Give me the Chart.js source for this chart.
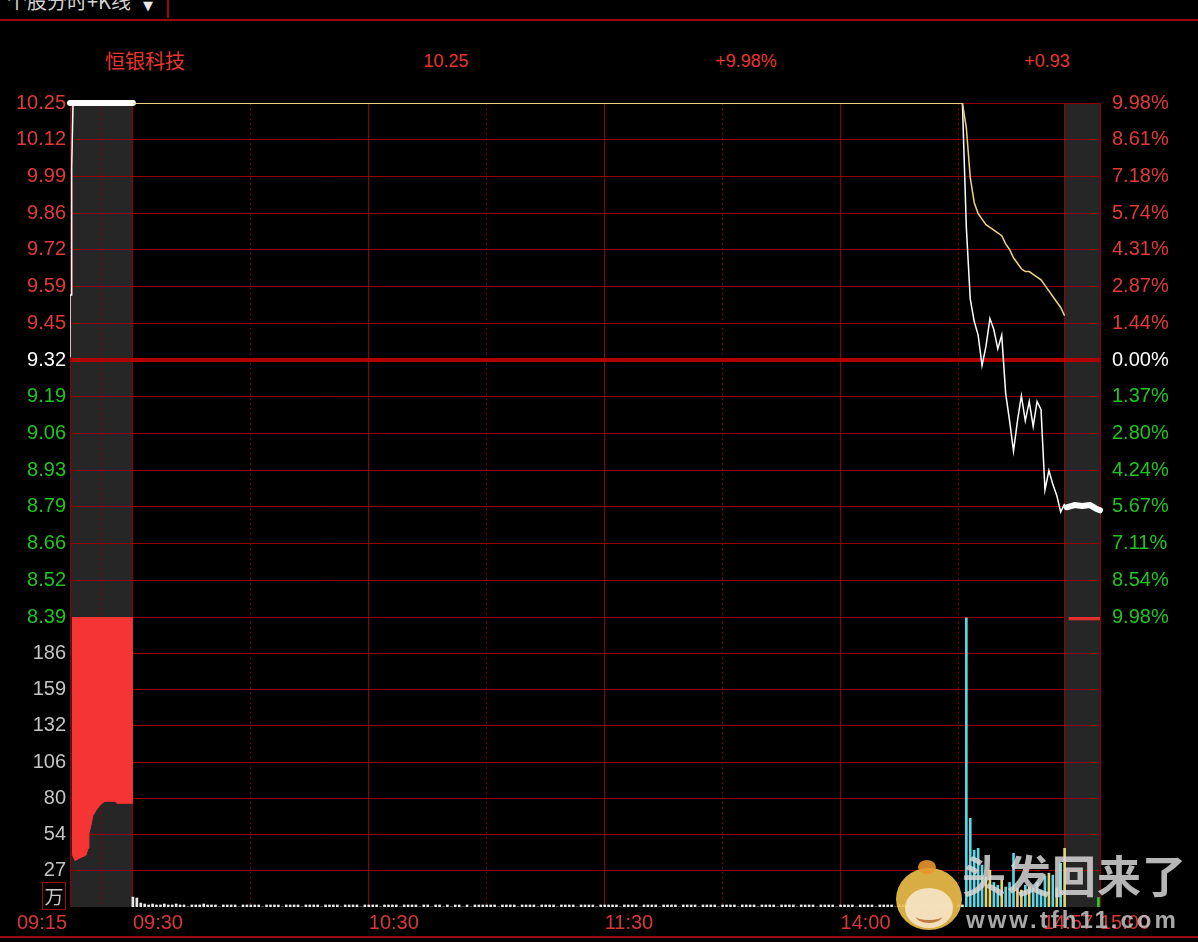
<!DOCTYPE html>
<html>
<head>
<meta charset="utf-8">
<script src="https://cdn.jsdelivr.net/npm/chart.js@4.4.1/dist/chart.umd.min.js"></script>
<style>
html, body { margin: 0; padding: 0; background: #000; overflow: hidden; }
#wrap { position: relative; width: 1198px; height: 942px; background: #000; font-family: "Liberation Sans", Arial, sans-serif; }
canvas { position: absolute; left: 0; }
#cPrice { top: 0; }
#cVol { top: 610px; }
.t { position: absolute; white-space: nowrap; line-height: 1; }
.ln { position: absolute; background: #9a0a0a; }
</style>
</head>
<body>
<div id="wrap">
  <div class="t" style="left:7px;top:-9px;font-size:20px;font-family:'Noto Sans CJK SC';color:#d2d2d2">个股分时+K线</div>
  <div class="t" style="left:143px;top:-1px;font-size:13px;font-family:'DejaVu Sans';color:#e8e8e8">▼</div>
  <div class="ln" style="left:167px;top:0;width:2px;height:18px"></div>
  <div class="ln" style="left:0;top:19px;width:1198px;height:2px"></div>
  <div class="ln" style="left:0;top:936px;width:1198px;height:2px"></div>

  <div class="t" style="left:105px;top:51px;font-size:20px;font-family:'Noto Sans CJK SC';color:#e8362f">恒银科技</div>
  <div class="t" style="left:396px;top:52px;width:100px;text-align:center;font-size:18px;color:#e8362f">10.25</div>
  <div class="t" style="left:696px;top:52px;width:100px;text-align:center;font-size:18px;color:#e8362f">+9.98%</div>
  <div class="t" style="left:997px;top:52px;width:100px;text-align:center;font-size:18px;color:#e8362f">+0.93</div>

  <canvas id="cPrice" width="1198" height="630"></canvas>
  <canvas id="cVol" width="1198" height="332"></canvas>

  <div class="t" style="left:42px;top:882px;width:22px;height:26px;border:1px solid #9a0a0a;text-align:center;line-height:26px;font-size:19px;font-family:'Noto Sans CJK SC';color:#c8c8c8">万</div>
  <div class="t" style="left:17px;top:912px;font-size:20px;color:#d8383a">09:15</div>
  <div class="t" style="left:1043px;top:912px;font-size:20px;color:#d8383a">14:57</div>

  <div style="position:absolute;left:896px;top:868px;width:66px;height:62px;border-radius:50%;background:#efc04a;opacity:.9"></div>
  <div style="position:absolute;left:905px;top:888px;width:48px;height:40px;border-radius:50%;background:#f6e6c8;opacity:.9"></div>
  <div style="position:absolute;left:916px;top:910px;width:26px;height:10px;border-bottom:3px solid #c07a3a;border-radius:0 0 50% 50%"></div>
  <div style="position:absolute;left:918px;top:860px;width:18px;height:14px;border-radius:50%;background:#e8962e;opacity:.9"></div>
  <div class="t" style="left:962px;top:852px;font-size:44px;font-weight:700;font-family:'Noto Sans CJK SC';color:rgba(214,214,214,.85);letter-spacing:1px">头发回来了</div>
  <div class="t" style="left:966px;top:908px;font-size:24px;font-weight:700;color:rgba(196,196,196,.85);letter-spacing:3px">www.tfh11.com</div>
</div>

<script>
// 昨收
const prevClose = 9.32;

// 刻度文字
const priceTickLabels = ['10.25','10.12','9.99','9.86','9.72','9.59','9.45','9.32','9.19','9.06','8.93','8.79','8.66','8.52','8.39'];
const pctTickLabels = ['9.98%','8.61%','7.18%','5.74%','4.31%','2.87%','1.44%','0.00%','1.37%','2.80%','4.24%','5.67%','7.11%','8.54%','9.98%'];
const volTickLabels = ['27','54','80','106','132','159','186'];
const xGridTimes = ['09:15','09:30','10:30','11:30','14:00','14:57','15:00'];
const xLabelTimes = ['09:30','10:30','11:30','14:00','15:00'];
const xDotTimes = ['09:20','10:00','11:00','13:30','14:30'];
const shadeRanges = [['09:15','09:30'], ['14:57','15:00']];

// 集合竞价 价格
const auctionTimes = ['09:15:00','09:15:00','09:15:16','09:15:16','09:15:29'];
const auctionPrices = [9.33, 9.555, 9.555, 10.015, 10.25];
const auctionHoldTimes = ['09:15:00','09:25:00'];
const auctionHoldPrices = [10.25, 10.25];

// 分时价格 / 均价
const priceTimes = ['09:30','14:31','14:32','14:33','14:34','14:35','14:36','14:37','14:38','14:39','14:40',
  '14:41','14:42','14:43','14:44','14:45','14:46','14:47','14:48','14:49','14:50',
  '14:51','14:52','14:53','14:54','14:55','14:56','14:57'];
const prices = [10.25, 10.25, 9.80, 9.54, 9.46, 9.41, 9.30, 9.37, 9.47, 9.43, 9.36,
  9.41, 9.20, 9.10, 8.99, 9.10, 9.19, 9.10, 9.17, 9.08, 9.17,
  9.14, 8.85, 8.92, 8.87, 8.83, 8.77, 8.80];
const avgPrices = [10.25, 10.25, 10.16, 9.98, 9.89, 9.85, 9.83, 9.81, 9.80, 9.79, 9.78,
  9.77, 9.74, 9.72, 9.69, 9.67, 9.65, 9.64, 9.64, 9.63, 9.62,
  9.61, 9.59, 9.57, 9.55, 9.53, 9.51, 9.48];

// 收盘集合竞价
const closeTimes = ['14:57:10','14:57:50','14:58:30','14:59:10','14:59:40','15:00:00'];
const closePrices = [8.787, 8.795, 8.792, 8.795, 8.782, 8.776];

// 竞价未匹配量 (万)
const unmatchedTimes = ['09:15:19','09:15:48','09:16:35','09:17:33','09:17:52','09:18:01','09:18:20',
  '09:18:39','09:19:18','09:20:05','09:20:34','09:22:09','09:22:28','09:25:00'];
const unmatchedVols = [39, 34, 36, 38, 43, 54, 60, 67, 72, 76, 77.5, 77.5, 76, 76];
const closeUnmatchedTimes = ['14:57:20','15:00:00'];
const closeUnmatchedVols = [210.5, 210.5];

// 成交量 (万) 09:30-11:30
const volAM = [
  7.3, 6.6, 2.9, 2.2, 1.5, 2.2, 1.5, 1.5, 2.2, 1.5,
  1.5, 2.2, 1.5, 1.5, 0, 1.5, 1.5, 1.5, 2.2, 1.5,
  1.5, 1.5, 0, 1.5, 1.5, 1.5, 1.5, 0, 1.5, 1.5,
  1.5, 1.5, 1.5, 0, 1.5, 1.5, 1.5, 1.5, 0, 1.5,
  1.5, 1.5, 1.5, 0, 1.5, 1.5, 1.5, 1.5, 0, 1.5,
  1.5, 1.5, 1.5, 0, 1.5, 1.5, 1.5, 1.5, 0, 1.5,
  1.5, 1.5, 1.5, 0, 1.5, 1.5, 1.5, 1.5, 0, 1.5,
  1.5, 1.5, 1.5, 0, 1.5, 1.5, 0, 1.5, 1.5, 0,
  1.5, 0, 1.5, 1.5, 0, 1.5, 0, 1.5, 1.5, 1.5,
  1.5, 1.5, 1.5, 0, 1.5, 1.5, 1.5, 1.5, 0, 1.5,
  1.5, 1.5, 1.5, 0, 1.5, 1.5, 1.5, 1.5, 0, 1.5,
  1.5, 1.5, 1.5, 0, 1.5, 1.5, 1.5, 1.5, 0, 1.5,
  1.5
];
// 成交量 (万) 13:01-14:57
const volPM = [
  1.5, 1.5, 1.5, 0, 1.5, 1.5, 1.5, 1.5, 0, 1.5,
  1.5, 1.5, 1.5, 0, 1.5, 1.5, 1.5, 1.5, 0, 1.5,
  1.5, 1.5, 1.5, 0, 1.5, 1.5, 1.5, 1.5, 0, 1.5,
  1.5, 1.5, 1.5, 0, 1.5, 1.5, 1.5, 1.5, 0, 1.5,
  1.5, 1.5, 1.5, 0, 1.5, 1.5, 1.5, 1.5, 0, 1.5,
  1.5, 1.5, 1.5, 0, 1.5, 1.5, 1.5, 1.5, 0, 1.5,
  1.5, 1.5, 1.5, 0, 1.5, 1.5, 1.5, 1.5, 0, 1.5,
  1.5, 1.5, 1.5, 0, 1.5, 1.5, 1.5, 1.5, 0, 1.5,
  1.5, 1.5, 1.5, 0, 1.5, 1.5, 1.5, 1.5, 0, 1.5,
  1.5,
  212, 65, 41.6, 43, 30.7, 22, 27, 18, 16, 20,
  14.6, 18, 39.4, 14, 12.4, 16, 14.6, 14, 18, 12.4,
  22.6, 24.8, 23.4, 14, 32, 43
];
// 14:32-14:57 涨跌 (u 涨 / d 跌)
const volPMTailDir = ['d','d','d','d','d','u','u','d','d','u','d','d','d','u','u','d','u','d','d','d','d','u','d','u','d','u'];
const closeVolTimes = ['15:00'];
const closeVols = [7];

// 时间 -> 横轴位置 (竞价区放大)
function toSlot(t) {
  const p = t.split(':').map(Number);
  const m = p[0] * 60 + p[1] + (p[2] || 0) / 60;
  if (m <= 565) return (m - 555) * 1.6;
  if (m < 570) return 16;
  if (m <= 690) return 16 + (m - 570);
  if (m <= 897) return 136 + (m - 780);
  return 253 + (m - 897) * 3;
}
function hm(base, i) {
  const m = base + i;
  return String(Math.floor(m / 60)).padStart(2, '0') + ':' + String(m % 60).padStart(2, '0');
}
const pts = (times, vals) => times.map((t, i) => ({ x: toSlot(t), y: vals[i] }));

const RED = '#e23a36', GREEN = '#20c420', GRID = '#940000', GRID_DOT = '#7a0000';
const FONT = { family: 'Liberation Sans', size: 20 };

const xTicks = xGridTimes.map(t => ({ value: toSlot(t), lab: xLabelTimes.includes(t) ? t : '', dot: false }))
  .concat(xDotTimes.map(t => ({ value: toSlot(t), lab: '', dot: true })));

function noPad(s) { s.paddingTop = 0; s.paddingBottom = 0; s.paddingLeft = 0; s.paddingRight = 0; }

function xAxis(showLabels) {
  return {
    type: 'linear', min: 0, max: 262, offset: false,
    afterBuildTicks: s => { s.ticks = xTicks.map(o => Object.assign({}, o)); },
    afterFit: s => { s.height = showLabels ? 35 : 0; noPad(s); },
    grid: { color: c => (c.tick && c.tick.dot) ? GRID_DOT : GRID, lineWidth: 1, drawTicks: false, offset: false },
    border: { display: false, dash: c => (c.tick && c.tick.dot) ? [2, 3] : [] },
    ticks: {
      display: showLabels, autoSkip: false, maxRotation: 0, align: 'start', padding: 4,
      color: '#d8383a', font: FONT,
      callback: (v, i, ticks) => ticks[i].lab || ''
    }
  };
}

const shade = {
  id: 'shade',
  beforeDraw(c) {
    const { ctx, chartArea: a, scales: { x } } = c;
    ctx.save();
    ctx.fillStyle = '#262626';
    shadeRanges.forEach(([s, e]) => {
      const x0 = x.getPixelForValue(toSlot(s)), x1 = x.getPixelForValue(toSlot(e));
      ctx.fillRect(x0, a.top, x1 - x0, a.bottom - a.top);
    });
    ctx.restore();
  }
};

const priceStep = (10.25 - prevClose) / 7;
const priceTickVals = priceTickLabels.map((l, i) => prevClose + (7 - i) * priceStep);
const sideColor = v => v > prevClose + 1e-6 ? RED : (v < prevClose - 1e-6 ? GREEN : '#ffffff');
const isZero = v => Math.abs(v - prevClose) < 1e-6;

new Chart(document.getElementById('cPrice'), {
  type: 'line',
  data: {
    datasets: [
      { data: pts(priceTimes, avgPrices), borderColor: '#f0d47a', borderWidth: 1.5 },
      { data: pts(priceTimes, prices), borderColor: '#ffffff', borderWidth: 1.5 },
      { data: pts(auctionTimes, auctionPrices), borderColor: '#ffffff', borderWidth: 1.5 },
      { data: pts(auctionHoldTimes, auctionHoldPrices), borderColor: '#ffffff', borderWidth: 6, borderCapStyle: 'round', clip: false },
      { data: pts(closeTimes, closePrices), borderColor: '#ffffff', borderWidth: 6, borderCapStyle: 'round', borderJoinStyle: 'round', clip: false }
    ]
  },
  options: {
    responsive: false, animation: false, devicePixelRatio: 1, events: [],
    layout: { padding: { top: 103, bottom: 13, left: 0, right: 0 } },
    elements: { point: { radius: 0 }, line: { tension: 0 } },
    plugins: { legend: { display: false }, tooltip: { enabled: false } },
    scales: {
      x: xAxis(false),
      y: {
        position: 'left', min: 8.39, max: 10.25,
        afterBuildTicks: s => { s.ticks = priceTickVals.map(v => ({ value: v })); },
        afterFit: s => { s.width = 70; noPad(s); },
        grid: { color: c => isZero(c.tick.value) ? '#b00000' : GRID, lineWidth: c => isZero(c.tick.value) ? 4 : 1, drawTicks: false },
        border: { display: false },
        ticks: { autoSkip: false, padding: 4, font: FONT, color: c => sideColor(c.tick.value), callback: (v, i) => priceTickLabels[i] }
      },
      yr: {
        position: 'right', min: 8.39, max: 10.25,
        afterBuildTicks: s => { s.ticks = priceTickVals.map(v => ({ value: v })); },
        afterFit: s => { s.width = 98; noPad(s); },
        grid: { display: false, drawOnChartArea: false },
        border: { display: false },
        ticks: { autoSkip: false, padding: 4, font: FONT, color: c => sideColor(c.tick.value), callback: (v, i) => pctTickLabels[i] }
      }
    }
  },
  plugins: [shade]
});

const volStep = 186 / 7;
const volBars = [], volColors = [];
volAM.forEach((v, i) => { volBars.push({ x: toSlot(hm(570, i)), y: v }); volColors.push('#e8e8e8'); });
const tailStart = volPM.length - volPMTailDir.length;
volPM.forEach((v, i) => {
  volBars.push({ x: toSlot(hm(781, i)), y: v });
  const d = i >= tailStart ? volPMTailDir[i - tailStart] : 'e';
  volColors.push(d === 'u' ? '#e6d470' : d === 'd' ? '#5cd6e4' : '#e8e8e8');
});
closeVolTimes.forEach((t, i) => { volBars.push({ x: toSlot(t) - 0.4, y: closeVols[i] }); volColors.push('#22d022'); });

new Chart(document.getElementById('cVol'), {
  type: 'line',
  data: {
    datasets: [
      { type: 'bar', data: volBars, backgroundColor: volColors, barThickness: 2, grouped: false },
      { data: pts(unmatchedTimes, unmatchedVols), borderColor: '#f53434', backgroundColor: '#f53434', borderWidth: 1, fill: 'end' },
      { data: pts(closeUnmatchedTimes, closeUnmatchedVols), borderColor: '#e53030', backgroundColor: '#e53030', borderWidth: 1, fill: 'end' }
    ]
  },
  options: {
    responsive: false, animation: false, devicePixelRatio: 1, events: [],
    layout: { padding: { top: 7, bottom: 0, left: 0, right: 98 } },
    elements: { point: { radius: 0 }, line: { tension: 0 } },
    plugins: { legend: { display: false }, tooltip: { enabled: false } },
    scales: {
      x: xAxis(true),
      y: {
        position: 'left', min: 0, max: volStep * 8,
        afterBuildTicks: s => { s.ticks = volTickLabels.map((l, i) => ({ value: (i + 1) * volStep })); },
        afterFit: s => { s.width = 70; noPad(s); },
        grid: { color: GRID, lineWidth: 1, drawTicks: false },
        border: { display: false },
        ticks: { autoSkip: false, padding: 4, font: FONT, color: '#c4c4c4', callback: (v, i) => volTickLabels[i] }
      }
    }
  },
  plugins: [shade]
});
</script>
</body>
</html>
